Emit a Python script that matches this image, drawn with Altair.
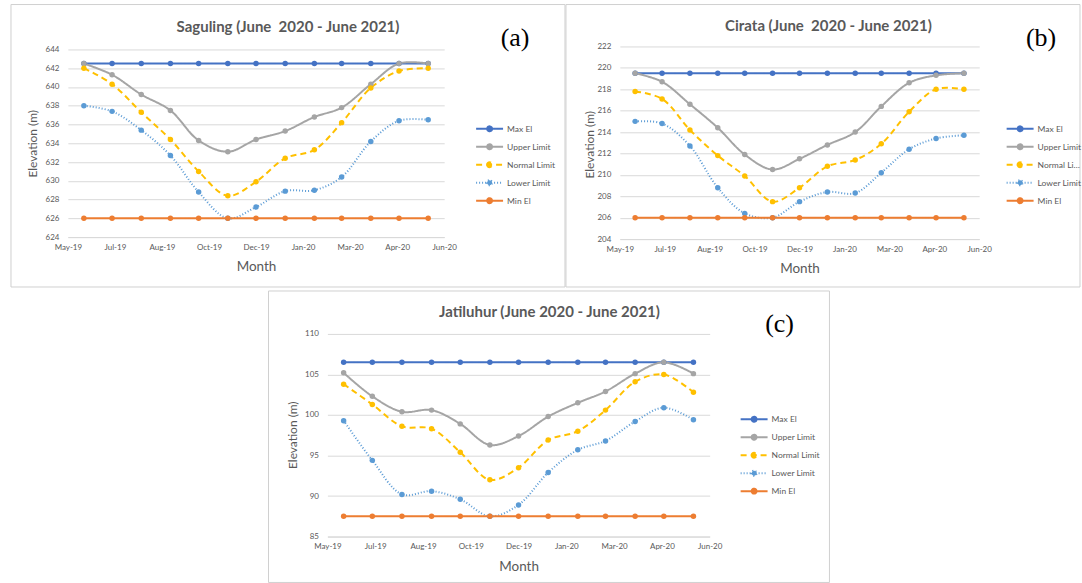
import altair as alt
import pandas as pd

# ---------------- data ----------------
months = ["2019-06-01", "2019-07-01", "2019-08-01", "2019-09-01", "2019-10-01",
          "2019-11-01", "2019-12-01", "2020-01-01", "2020-02-01", "2020-03-01",
          "2020-04-01", "2020-05-01", "2020-06-01"]
series = ["Max El", "Upper Limit", "Normal Limit", "Lower Limit", "Min El"]

sag_max = [642.5, 642.5, 642.5, 642.5, 642.5, 642.5, 642.5, 642.5, 642.5, 642.5, 642.5, 642.5, 642.5]
sag_upper = [642.5, 641.3, 639.2, 637.5, 634.3, 633.1, 634.4, 635.3, 636.8, 637.8, 640.3, 642.5, 642.5]
sag_normal = [642.0, 640.3, 637.3, 634.4, 631.0, 628.4, 629.9, 632.4, 633.3, 636.2, 639.9, 641.7, 642.0]
sag_lower = [638.0, 637.4, 635.4, 632.7, 628.8, 626.0, 627.2, 628.9, 629.0, 630.4, 634.2, 636.4, 636.5]
sag_min = [626.0, 626.0, 626.0, 626.0, 626.0, 626.0, 626.0, 626.0, 626.0, 626.0, 626.0, 626.0, 626.0]

cir_max = [219.5, 219.5, 219.5, 219.5, 219.5, 219.5, 219.5, 219.5, 219.5, 219.5, 219.5, 219.5, 219.5]
cir_upper = [219.5, 218.7, 216.6, 214.4, 211.9, 210.5, 211.5, 212.8, 214.0, 216.4, 218.6, 219.3, 219.5]
cir_normal = [217.8, 217.1, 214.2, 211.8, 209.9, 207.5, 208.8, 210.8, 211.4, 212.9, 215.9, 218.0, 218.0]
cir_lower = [215.0, 214.8, 212.7, 208.8, 206.4, 206.0, 207.5, 208.4, 208.3, 210.2, 212.4, 213.4, 213.7]
cir_min = [206.0, 206.0, 206.0, 206.0, 206.0, 206.0, 206.0, 206.0, 206.0, 206.0, 206.0, 206.0, 206.0]

jat_max = [106.5, 106.5, 106.5, 106.5, 106.5, 106.5, 106.5, 106.5, 106.5, 106.5, 106.5, 106.5, 106.5]
jat_upper = [105.2, 102.3, 100.4, 100.6, 98.9, 96.3, 97.4, 99.8, 101.5, 102.9, 105.1, 106.5, 105.1]
jat_normal = [103.8, 101.3, 98.6, 98.3, 95.4, 92.0, 93.5, 96.9, 98.0, 100.6, 104.1, 105.0, 102.8]
jat_lower = [99.3, 94.4, 90.2, 90.6, 89.6, 87.5, 88.9, 92.9, 95.7, 96.8, 99.2, 100.9, 99.4]
jat_min = [87.5, 87.5, 87.5, 87.5, 87.5, 87.5, 87.5, 87.5, 87.5, 87.5, 87.5, 87.5, 87.5]

x_ticks = [(2019, 5, 15), (2019, 7, 4), (2019, 8, 23), (2019, 10, 12), (2019, 12, 1),
           (2020, 1, 20), (2020, 3, 10), (2020, 4, 29), (2020, 6, 18)]
sag_yticks = [624, 626, 628, 630, 632, 634, 636, 638, 640, 642, 644]
cir_yticks = [204, 206, 208, 210, 212, 214, 216, 218, 220, 222]
jat_yticks = [85, 90, 95, 100, 105, 110]

titles = ["Saguling (June\u00a0 2020 - June 2021)", "Cirata (June\u00a0 2020 - June 2021)",
          "Jatiluhur (June 2020 - June 2021)"]
letters = ["(a)", "(b)", "(c)"]

# ---------------- styles ----------------
colors = ["#4472C4", "#A5A5A5", "#FFC000", "#5B9BD5", "#ED7D31"]
dashes = [[1, 0], [1, 0], [6, 4], [1, 2], [1, 0]]
widths = [2, 2, 2, 1, 2]
FONT = "Lato"
TXT = "#595959"
GRID = "#D9D9D9"
SYM = "M-3,0L3,0M-0.55,0A0.55,0.55,0,1,0,0.55,0A0.55,0.55,0,1,0,-0.55,0"


def long_df(vals):
    rows = []
    for s, v in zip(series, vals):
        for m, y in zip(months, v):
            rows.append({"date": m, "series": s, "value": y})
    return pd.DataFrame(rows)


def panel(vals, yticks, W, H, title, letter, geo):
    df = long_df(vals)
    dx = geo.get("dx", 0)          # horizontal shift of the plot inside its grid cell
    PW = geo.get("pw", W)          # plot width
    xdomain = [alt.DateTime(year=2019, month=5, date=15, utc=True),
               alt.DateTime(year=2020, month=6, date=18, utc=True)]
    xvals = [alt.DateTime(year=a, month=b, date=c, utc=True) for a, b, c in x_ticks]
    xscale = alt.Scale(type="utc", domain=xdomain, range=[dx, dx + PW])
    yscale = alt.Scale(domain=[yticks[0], yticks[-1]], nice=False, zero=False,
                       range=[H, geo.get("ytop", 0)])
    xaxis = alt.Axis(values=xvals, format="%b-%y", labelFont=FONT, labelFontSize=8,
                     labelColor=TXT, domainColor=GRID, domainWidth=1, ticks=False, grid=False,
                     labelPadding=6, labelOverlap=False, titleFont=FONT, titleFontSize=13.5,
                     titleColor=TXT, titleFontWeight="normal", titleX=dx + PW / 2,
                     titleY=geo["xty"], titleBaseline="middle", titleAlign="center",
                     labelFlush=False)
    yaxis = alt.Axis(values=yticks, format="d", domain=False, ticks=False, grid=True,
                     gridColor=GRID, gridWidth=1, labelFont=FONT, labelFontSize=8,
                     labelColor=TXT, labelPadding=9, labelOverlap=False, titleFont=FONT,
                     titleFontSize=12, titleColor=TXT, titleFontWeight="normal",
                     titleX=geo["ytx"], titleY=geo["yty"], titleAngle=270,
                     titleBaseline="middle", titleAlign="center", offset=-dx)
    leg = alt.Legend(title=None, orient="none", legendX=dx + geo["lx"], legendY=geo["ly"],
                     symbolType=SYM, symbolSize=81, symbolStrokeWidth=2,
                     labelFont=FONT, labelFontSize=8.5, labelColor=TXT, labelOffset=12,
                     rowPadding=5, padding=0, labelLimit=geo.get("llim", 80))
    X = alt.X("date:T", scale=xscale, axis=xaxis, title="Month")
    Y = alt.Y("value:Q", scale=yscale, axis=yaxis, title="Elevation (m)")
    lines = alt.Chart(df).mark_line(interpolate="catmull-rom").encode(
        x=X, y=Y,
        color=alt.Color("series:N", scale=alt.Scale(domain=series, range=colors), legend=leg),
        strokeDash=alt.StrokeDash("series:N", scale=alt.Scale(domain=series, range=dashes), legend=leg),
        strokeWidth=alt.StrokeWidth("series:N", scale=alt.Scale(domain=series, range=widths), legend=None),
    )
    pts = alt.Chart(df).mark_point(filled=True, size=30, opacity=1).encode(
        x=alt.X("date:T", scale=xscale, axis=xaxis, title="Month"),
        y=alt.Y("value:Q", scale=yscale, axis=yaxis, title="Elevation (m)"),
        color=alt.Color("series:N", scale=alt.Scale(domain=series, range=colors), legend=None),
    )
    one = alt.Data(values=[{"k": 1}])
    fx0, fx1, fy0, fy1 = geo["frame"]
    frame = alt.Chart(one).mark_rect(fillOpacity=0, stroke="#D0D0D0", strokeWidth=1).encode(
        x=alt.value(dx + fx0), x2=alt.value(dx + fx1), y=alt.value(fy0), y2=alt.value(fy1))
    ttl = alt.Chart(one).mark_text(font=FONT, fontSize=15, fontWeight="bold", color=TXT,
                                   align="center", baseline="middle").encode(
        text=alt.value(title), x=alt.value(dx + geo["tx"]), y=alt.value(geo["ty"]))
    let = alt.Chart(one).mark_text(font="Liberation Serif", fontSize=26, color="#000000",
                                   align="center", baseline="middle").encode(
        text=alt.value(letter), x=alt.value(dx + geo["lt"][0]), y=alt.value(geo["lt"][1]))
    return alt.layer(frame, lines, pts, ttl, let).properties(width=W, height=H)


# panel geometry relative to each plot group's origin
geo_a = dict(frame=(-57, 498, -45, 238), tx=220.5, ty=-22, lt=(448, -11),
             lx=417, ly=74, ytx=-35, yty=94, xty=29)
geo_b = dict(frame=(-54, 461, -45, 238), tx=209, ty=-23, lt=(422, -11),
             lx=395.5, ly=74, ytx=-30, yty=95, xty=29, ytop=-3, llim=46)
geo_c = dict(frame=(-59, 503, -43, 249), tx=222.5, ty=-22, lt=(453, -10),
             lx=422, ly=80, ytx=-35, yty=101, xty=30, dx=260, pw=383)

pa = panel([sag_max, sag_upper, sag_normal, sag_lower, sag_min], sag_yticks, 377, 188,
           titles[0], letters[0], geo_a)
pb = panel([cir_max, cir_upper, cir_normal, cir_lower, cir_min], cir_yticks, 360, 190,
           titles[1], letters[1], geo_b)
pc = panel([jat_max, jat_upper, jat_normal, jat_lower, jat_min], jat_yticks, 377, 203,
           titles[2], letters[2], geo_c)

chart = alt.concat(pa, pb, pc, columns=2, bounds="flush",
                   spacing={"row": 95, "column": 176}).resolve_scale(
    color="independent", strokeDash="independent", strokeWidth="independent").resolve_legend(
    color="independent", strokeDash="independent").properties(
    padding={"left": 10, "top": 3, "right": 0, "bottom": 0},
    background="white").configure_view(strokeWidth=0)

chart.save("out.html", embed_options={"renderer": "svg", "actions": False})
